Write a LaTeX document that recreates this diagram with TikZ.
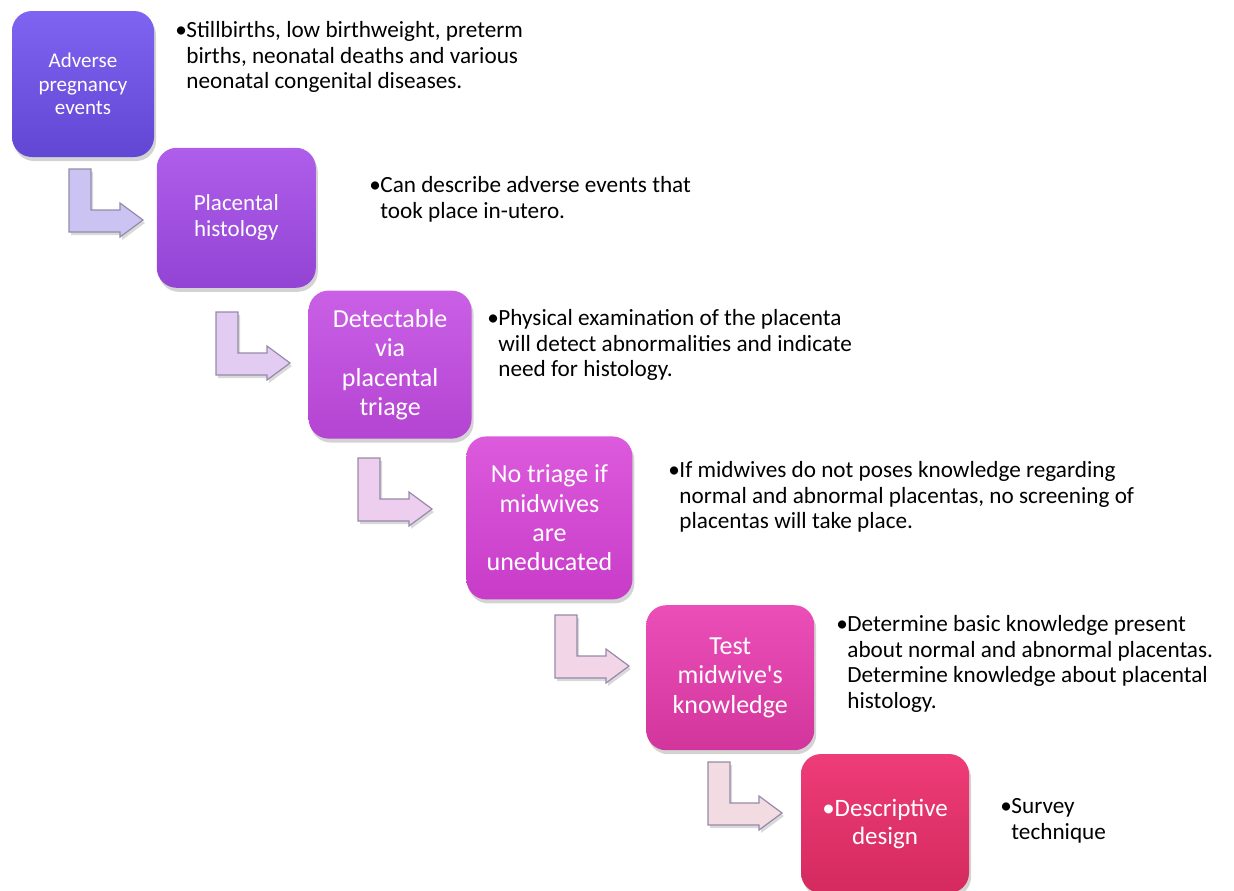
\documentclass[tikz,border=0pt]{standalone}
\usepackage{fontspec}
\setmainfont{Carlito}
\usetikzlibrary{positioning,shadows}
\definecolor{bxone}{RGB}{126,100,240}
\definecolor{bxonedk}{RGB}{98,70,212}
\definecolor{bxtwo}{RGB}{174,94,234}
\definecolor{bxtwodk}{RGB}{148,68,212}
\definecolor{bxthree}{RGB}{202,96,230}
\definecolor{bxthreedk}{RGB}{180,68,210}
\definecolor{bxfour}{RGB}{220,90,220}
\definecolor{bxfourdk}{RGB}{200,60,200}
\definecolor{bxfive}{RGB}{236,78,184}
\definecolor{bxfivedk}{RGB}{210,54,156}
\definecolor{bxsix}{RGB}{238,60,120}
\definecolor{bxsixdk}{RGB}{212,42,94}
\definecolor{arone}{RGB}{203,196,242}
\definecolor{artwo}{RGB}{226,204,242}
\definecolor{arthree}{RGB}{237,206,238}
\definecolor{arfour}{RGB}{242,214,232}
\definecolor{arfive}{RGB}{242,220,226}
\definecolor{aredge}{RGB}{150,138,170}
\newcommand\bul{\makebox[5.5pt][l]{•}}
\newcommand\ind{\hspace*{5.5pt}}
\tikzset{
  stepbox/.style={rounded corners=10pt, inner sep=0pt, align=center, text=white,
    drop shadow={opacity=.35, shadow xshift=1pt, shadow yshift=-2pt}},
  sidetxt/.style={anchor=north west, inner sep=0pt, align=left,
    font=\fontsize{11.6}{12.8}\selectfont},
  bentarrow/.pic={
    \draw[draw=aredge, line width=.6pt, pic actions,
      drop shadow={opacity=.3, shadow xshift=1pt, shadow yshift=-1.5pt}]
      (0,0) -- (22,0) -- (22,-41) -- (51,-41) -- (51,-34) -- (74,-51)
      -- (51,-68) -- (51,-63) -- (0,-63) -- cycle;
  }
}

\begin{document}
\begin{tikzpicture}[x=0.5pt, y=0.5pt]
  \useasboundingbox (0,0) rectangle (1234,-890);
  % steps
  \node[stepbox, top color=bxone, bottom color=bxonedk, minimum width=71pt, minimum height=73pt,
    font=\fontsize{10.5}{11.8}\selectfont] (b1) at (83,-84) {Adverse\\pregnancy\\events};
  \node[stepbox, top color=bxtwo, bottom color=bxtwodk, minimum width=79.5pt, minimum height=70pt,
    font=\fontsize{11.5}{13}\selectfont, below right=-5pt and 1pt of b1] (b2) {Placental\\histology};
  \node[stepbox, top color=bxthree, bottom color=bxthreedk, minimum width=81.5pt, minimum height=74pt,
    font=\fontsize{13}{14.7}\selectfont, below right=1pt and -4pt of b2] (b3) {Detectable\\via\\placental\\triage};
  \node[stepbox, top color=bxfour, bottom color=bxfourdk, minimum width=83pt, minimum height=81.5pt,
    font=\fontsize{13}{14.7}\selectfont, below right=-1.5pt and -3pt of b3] (b4) {No triage if\\midwives\\are\\uneducated};
  \node[stepbox, top color=bxfive, bottom color=bxfivedk, minimum width=84pt, minimum height=72.5pt,
    font=\fontsize{13}{14.7}\selectfont, below right=2.5pt and 6.5pt of b4] (b5) {Test\\midwive\textquotesingle s\\knowledge};
  \node[stepbox, top color=bxsix, bottom color=bxsixdk, minimum width=84pt, minimum height=69.5pt,
    font=\fontsize{12.5}{14}\selectfont, below right=1.5pt and -7pt of b5] (b6) {•Descriptive\\design};
  % bent arrows
  \pic[fill=arone] at (69,-169) {bentarrow};
  \pic[fill=artwo] at (216,-312) {bentarrow};
  \pic[fill=arthree] at (358,-458) {bentarrow};
  \pic[fill=arfour] at (555,-615) {bentarrow};
  \pic[fill=arfive] at (708,-762) {bentarrow};
  % notes
  \node[sidetxt] (t1) at (175,-21) {\bul Stillbirths, low birthweight, preterm\\\ind births, neonatal deaths and various\\\ind neonatal congenital diseases.};
  \node[sidetxt] (t2) at (369,-176) {\bul Can describe adverse events that\\\ind took place in-utero.};
  \node[sidetxt] (t3) at (487,-309) {\bul Physical examination of the placenta\\\ind will detect abnormalities and indicate\\\ind need for histology.};
  \node[sidetxt] (t4) at (668,-461) {\bul If midwives do not poses knowledge regarding\\\ind normal and abnormal placentas, no screening of\\\ind placentas will take place.};
  \node[sidetxt] (t5) at (836,-615) {\bul Determine basic knowledge present\\\ind about normal and abnormal placentas.\\\ind Determine knowledge about placental\\\ind histology.};
  \node[sidetxt] (t6) at (1000,-798) {\bul Survey\\\ind technique};
\end{tikzpicture}
\end{document}
